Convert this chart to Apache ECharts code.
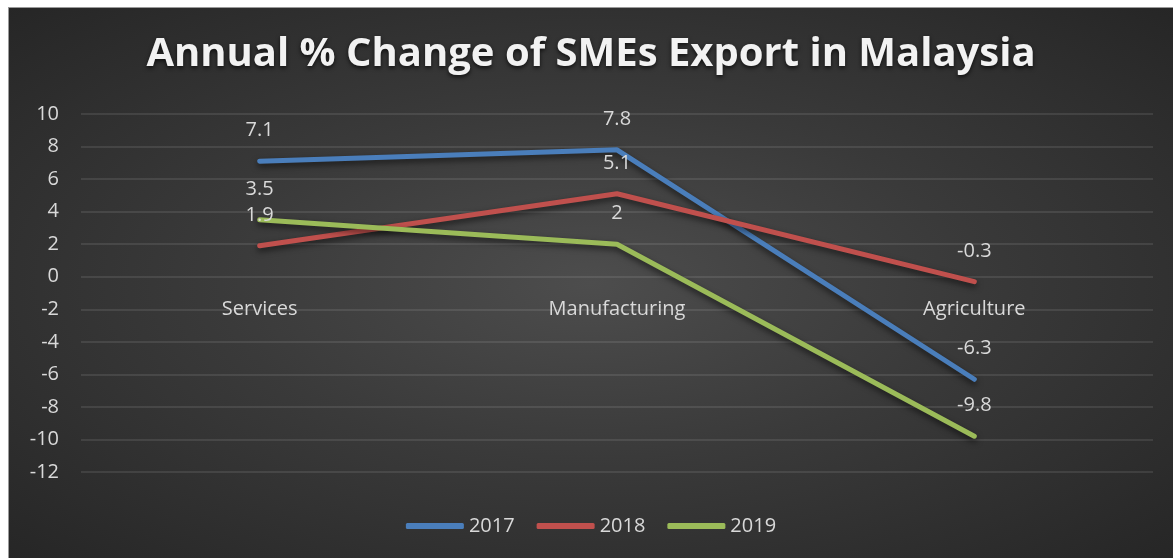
<!DOCTYPE html>
<html>
<head>
<meta charset="utf-8">
<script src="https://cdn.jsdelivr.net/npm/echarts@6/dist/echarts.min.js"></script>
<style>
  html, body { margin: 0; padding: 0; background: #fff; width: 1173px; height: 558px; overflow: hidden; }
  #chart {
    position: absolute; left: 8px; top: 7px; width: 1165px; height: 551px;
    background: radial-gradient(ellipse at 50% 50%, #4d4d4d 0%, #3a3a3a 45%, #262626 100%);
    border-left: 1px solid #9a9a9a; border-top: 1px solid #9a9a9a; box-sizing: border-box;
  }
</style>
</head>
<body>
<div id="chart"></div>
<script>
// 数据
var categories = ["Services", "Manufacturing", "Agriculture"];
var years = ["2017", "2018", "2019"];
var values2017 = [7.1, 7.8, -6.3];
var values2018 = [1.9, 5.1, -0.3];
var values2019 = [3.5, 2, -9.8];
var seriesColors = ["#4a7ebb", "#c0504d", "#9bbb59"];
var yMin = -12, yMax = 10, yStep = 2;

var textColor = "#d9d9d9";
var gridColor = "rgba(255,255,255,0.13)";
var font = "'Open Sans', sans-serif";

function makeSeries(name, data, color) {
  return {
    name: name,
    type: "line",
    data: data,
    // 标签依附在 symbol 上，所以保留一个极小的 symbol
    symbol: "circle",
    symbolSize: 1,
    showSymbol: true,
    itemStyle: { color: color },
    color: color,
    lineStyle: {
      width: 5,
      color: color,
      cap: "round",
      join: "round",
      shadowColor: "rgba(0,0,0,0.6)",
      shadowBlur: 6,
      shadowOffsetY: 3
    },
    label: {
      show: true,
      position: "top",
      distance: 20,
      color: textColor,
      fontSize: 20,
      fontFamily: font
    },
    emphasis: { disabled: true }
  };
}

var chart = echarts.init(document.getElementById("chart"));
chart.setOption({
  backgroundColor: "transparent",
  animation: false,
  title: {
    text: "Annual % Change of SMEs Export in Malaysia",
    left: "center",
    top: 22,
    textStyle: {
      color: "#f2f2f2",
      fontSize: 40,
      fontWeight: "bold",
      fontFamily: font,
      textShadowColor: "rgba(0,0,0,0.7)",
      textShadowBlur: 4,
      textShadowOffsetY: 2
    }
  },
  legend: {
    data: years,
    bottom: 17,
    left: "center",
    icon: "roundRect",
    itemWidth: 58,
    itemHeight: 6,
    itemGap: 22,
    textStyle: { color: textColor, fontSize: 20, fontFamily: font }
  },
  grid: { left: 72, right: 20, top: 106, bottom: 86 },
  xAxis: {
    type: "category",
    data: categories,
    boundaryGap: true,
    axisLine: { show: false },
    axisTick: { show: false },
    axisLabel: { color: textColor, fontSize: 20, fontFamily: font, margin: 23 }
  },
  yAxis: {
    type: "value",
    min: yMin,
    max: yMax,
    interval: yStep,
    axisLine: { show: false },
    axisTick: { show: false },
    axisLabel: { color: textColor, fontSize: 20, fontFamily: font, margin: 22 },
    splitLine: { lineStyle: { color: gridColor, width: 1.5 } }
  },
  series: [
    makeSeries(years[0], values2017, seriesColors[0]),
    makeSeries(years[1], values2018, seriesColors[1]),
    makeSeries(years[2], values2019, seriesColors[2])
  ]
});

// 类目标签放在 0 刻度线下方：用坐标轴换算出 0 与底部的距离
var zeroY = chart.convertToPixel({ yAxisIndex: 0 }, 0);
var bottomY = chart.convertToPixel({ yAxisIndex: 0 }, yMin);
chart.setOption({ xAxis: { offset: -(bottomY - zeroY) } });
</script>
</body>
</html>
